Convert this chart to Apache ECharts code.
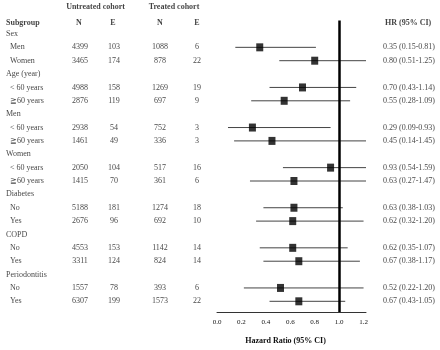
<!DOCTYPE html>
<html><head><meta charset="utf-8">
<script src="https://cdn.jsdelivr.net/npm/echarts@6/dist/echarts.min.js"></script>
</head>
<body style="margin:0;background:#fff">
<div id="c" style="width:440px;height:350px"></div>
<script>
// ---- data ----
const subgroups = ['Sex','Men','Women','Age (year)','< 60 years','\u226760 years','Men','< 60 years','\u226760 years','Women','< 60 years','\u226760 years','Diabetes','No','Yes','COPD','No','Yes','Periodontitis','No','Yes'];
const isGroup   = [1,0,0,1,0,0,1,0,0,1,0,0,1,0,0,1,0,0,1,0,0];
const untreatedN = [null,4399,3465,null,4988,2876,null,2938,1461,null,2050,1415,null,5188,2676,null,4553,3311,null,1557,6307];
const untreatedE = [null,103,174,null,158,119,null,54,49,null,104,70,null,181,96,null,153,124,null,78,199];
const treatedN   = [null,1088,878,null,1269,697,null,752,336,null,517,361,null,1274,692,null,1142,824,null,393,1573];
const treatedE   = [null,6,22,null,19,9,null,3,3,null,16,6,null,18,10,null,14,14,null,6,22];
const hr   = [null,0.35,0.80,null,0.70,0.55,null,0.29,0.45,null,0.93,0.63,null,0.63,0.62,null,0.62,0.67,null,0.52,0.67];
const ciLo = [null,0.15,0.51,null,0.43,0.28,null,0.09,0.14,null,0.54,0.27,null,0.38,0.32,null,0.35,0.38,null,0.22,0.43];
const ciHi = [null,0.81,1.25,null,1.14,1.09,null,0.93,1.45,null,1.59,1.47,null,1.03,1.20,null,1.07,1.17,null,1.20,1.05];
const xTicks = [0.0,0.2,0.4,0.6,0.8,1.0,1.2];
const cohortHeaders = ['Untreated cohort','Treated cohort'];
const colHeaders = ['Subgroup','N','E','N','E','HR (95% CI)'];
const axisTitle = 'Hazard Ratio (95% CI)';

// ---- layout ----
const FONT = 'Liberation Serif';
const TXT = '#111';
const X_MAX = 1.22;
const colX = {group:6, sub:10, n1:80, e1:114, n2:160, e2:197, hr:383};

function textSeries(points, opts) {
  return {
    type:'scatter', xAxisIndex:1, yAxisIndex:1, symbolSize:0, silent:true,
    clip:false, animation:false,
    data: points,
    label: Object.assign({
      show:true, position:'inside', formatter: p => p.data[2],
      fontFamily:FONT, fontSize:8, color:TXT, align:'center', verticalAlign:'middle'
    }, opts)
  };
}

const groupPts = [], subPts = [], n1=[], e1=[], n2=[], e2=[], hrTxt=[];
subgroups.forEach((s,i) => {
  if (isGroup[i]) groupPts.push([colX.group, i, s]); else subPts.push([colX.sub, i, s]);
  if (untreatedN[i] != null) {
    n1.push([colX.n1, i, String(untreatedN[i])]);
    e1.push([colX.e1, i, String(untreatedE[i])]);
    n2.push([colX.n2, i, String(treatedN[i])]);
    e2.push([colX.e2, i, String(treatedE[i])]);
    hrTxt.push([colX.hr, i, hr[i].toFixed(2)+' ('+ciLo[i].toFixed(2)+'-'+ciHi[i].toFixed(2)+')']);
  }
});
const HEAD_ROW = -0.82, COHORT_ROW = -2.02;
const headCenter = [
  [95.5, COHORT_ROW, cohortHeaders[0]],
  [174, COHORT_ROW, cohortHeaders[1]],
  [colX.n1-1, HEAD_ROW, colHeaders[1]],
  [colX.e1-1, HEAD_ROW, colHeaders[2]],
  [colX.n2, HEAD_ROW, colHeaders[3]],
  [colX.e2, HEAD_ROW, colHeaders[4]]
];
const headLeft = [[colX.group, HEAD_ROW, colHeaders[0]], [385, HEAD_ROW, colHeaders[5]]];

const ciData = [], boxData = [];
hr.forEach((v,i) => { if (v != null) { ciData.push([ciLo[i], ciHi[i], i]); boxData.push([v, i]); } });

const chart = echarts.init(document.getElementById('c'));
chart.setOption({
  animation:false,
  grid:[
    {left:217, right:74, top:20.6, bottom:38},
    {left:0, right:0, top:0, bottom:38}
  ],
  xAxis:[
    {gridIndex:0, type:'value', min:0, max:X_MAX, interval:0.2,
     axisLine:{show:true, onZero:false, lineStyle:{color:'#333', width:1}},
     axisTick:{show:false}, splitLine:{show:false},
     axisLabel:{fontFamily:FONT, fontSize:7, color:TXT, margin:7,
       formatter: v => { const t = xTicks.find(k => Math.abs(k-v) < 1e-6); return t === undefined ? '' : t.toFixed(1); }},
     name:axisTitle, nameLocation:'middle', nameGap:25,
     nameTextStyle:{fontFamily:FONT, fontSize:8, fontWeight:'bold', color:TXT, padding:[0,12,0,0]}},
    {gridIndex:1, type:'value', min:0, max:440, show:false}
  ],
  yAxis:[
    {gridIndex:0, type:'value', inverse:true, min:-1, max:20.8, show:false},
    {gridIndex:1, type:'value', inverse:true, min:-2.543, max:20.8, show:false}
  ],
  series:[
    {type:'custom', xAxisIndex:0, yAxisIndex:0, silent:true, data:ciData,
     encode:{x:[0,1], y:2},
     renderItem:(params, api) => {
       const a = api.coord([api.value(0), api.value(2)]);
       const b = api.coord([Math.min(api.value(1), X_MAX), api.value(2)]);
       return {type:'line', shape:{x1:a[0], y1:a[1], x2:b[0], y2:b[1]}, style:{stroke:'#444', lineWidth:1}};
     },
     markLine:{silent:true, symbol:'none', label:{show:false},
       lineStyle:{color:'#000', width:2.5, type:'solid'}, data:[{xAxis:1}]}
    },
    {type:'scatter', xAxisIndex:0, yAxisIndex:0, silent:true, symbol:'rect', symbolSize:[7,8],
     itemStyle:{color:'#000'}, data:boxData},
    textSeries(groupPts, {align:'left'}),
    textSeries(subPts, {align:'left'}),
    textSeries(n1, {}), textSeries(e1, {}), textSeries(n2, {}), textSeries(e2, {}),
    textSeries(hrTxt, {align:'left'}),
    textSeries(headCenter, {fontWeight:'bold'}),
    textSeries(headLeft, {fontWeight:'bold', align:'left'})
  ]
});
</script>
</body></html>
